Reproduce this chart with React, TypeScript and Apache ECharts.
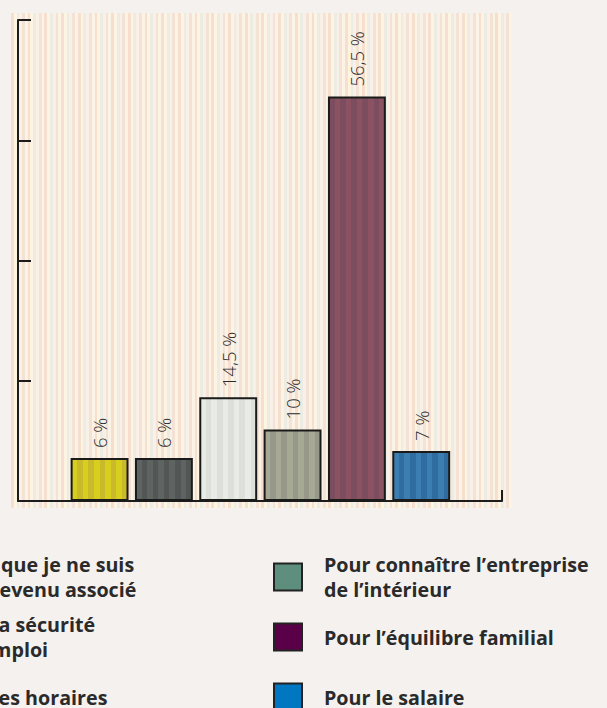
import React, { useEffect, useRef } from "react";
import * as echarts from "echarts";

// ---- data ----
const categories = [
  "Parce que je ne suis\nmon revenu associé",
  "Pour la sécurité\nde l’emploi",
  "Pour les horaires",
  "Pour connaître l’entreprise\nde l’intérieur",
  "Pour l’équilibre familial",
  "Pour le salaire",
];
const values = [6, 6, 14.5, 10, 56.5, 7];
const valueLabels = ["6 %", "6 %", "14,5 %", "10 %", "56,5 %", "7 %"];
const yMax = 67.2;
const yInterval = 16.8;

// ---- styles ----
const barShades = [
  ["#d8ce1e", "#c9ba2c"],
  ["#5e6461", "#525756"],
  ["#e9ece6", "#dde0d8"],
  ["#a6a994", "#979889"],
  ["#7c4d5e", "#8b5262"],
  ["#3c7db2", "#2f6da0"],
];
const legendColors = ["#d6cc1e", "#5a605e", "#eeeee8", "#5e8f7e", "#5a0048", "#0077c0"];
const bgStripes = ["#f6dfcf", "#fdf5e2", "#ecebe4", "#f9f0e8", "#f4e2d4", "#fbf3e6"];

function stripeGradient(colors: string[], count: number) {
  const stops: { offset: number; color: string }[] = [];
  for (let k = 0; k < count; k++) {
    const c = colors[k % colors.length];
    stops.push({ offset: k / count, color: c });
    stops.push({ offset: (k + 1) / count, color: c });
  }
  return new echarts.graphic.LinearGradient(0, 0, 1, 0, stops);
}

export default function App() {
  const ref = useRef<HTMLDivElement>(null);
  useEffect(() => {
    if (!ref.current) return;
    const chart = echarts.init(ref.current, null, { renderer: "svg" });

    const rowCenters = [577, 637, 697];
    const lineH = 25;
    const legends = categories.map((name, i) => {
      const col = i < 3 ? 0 : 1;
      const row = i % 3;
      const lines = name.split("\n").length;
      const h = Math.max(lines * lineH, 29);
      return {
        data: [{ name, itemStyle: { color: legendColors[i], borderColor: "#222", borderWidth: 2 } }],
        orient: "vertical",
        left: col === 0 ? -110 : 273,
        top: rowCenters[row] - h / 2,
        padding: 0,
        icon: "rect",
        itemWidth: 28,
        itemHeight: 27,
        selectedMode: false,
        itemStyle: { borderColor: "#222", borderWidth: 2 },
        textStyle: {
          fontFamily: "Open Sans",
          fontWeight: "bold",
          fontSize: 19.7,
          lineHeight: lineH,
          color: "#2a2a2a",
          padding: [0, 0, 0, 17],
        },
      };
    });

    const series = categories.map((name, i) => ({
      type: "bar",
      name,
      xAxisIndex: 1,
      yAxisIndex: 1,
      stack: "all",
      barWidth: "90%",
      data: values.map((v, j) => (j === i ? v : "-")),
      itemStyle: {
        color: stripeGradient(barShades[i], 10),
        borderColor: "#1a1a1a",
        borderWidth: 2,
      },
      label: {
        show: true,
        position: "top",
        rotate: 90,
        align: "left",
        verticalAlign: "middle",
        distance: 10,
        formatter: () => valueLabels[i],
        fontFamily: "Open Sans",
        fontWeight: 300,
        fontSize: 18.5,
        color: "#2a2a2a",
      },
      emphasis: { disabled: true },
    }));

    chart.setOption({
      animation: false,
      backgroundColor: "#f5f1ee",
      graphic: [
        {
          type: "rect",
          z: -10,
          silent: true,
          shape: { x: 11, y: 13, width: 501, height: 495 },
          style: { fill: stripeGradient(bgStripes, 180) },
        },
      ],
      legend: legends,
      grid: [
        { left: 18, top: 20, width: 484, height: 481 },
        { left: 67.4, top: 20, width: 386, height: 481 },
      ],
      xAxis: [
        {
          type: "value",
          gridIndex: 0,
          min: 0,
          max: 1,
          interval: 1,
          axisLine: { show: true, lineStyle: { color: "#1c1c1c", width: 2 } },
          axisTick: { show: true, inside: true, length: 11, lineStyle: { color: "#1c1c1c", width: 2 } },
          axisLabel: { show: false },
          splitLine: { show: false },
        },
        {
          type: "category",
          gridIndex: 1,
          data: categories,
          show: false,
        },
      ],
      yAxis: [
        {
          type: "value",
          gridIndex: 0,
          min: 0,
          max: yMax,
          interval: yInterval,
          axisLine: { show: true, lineStyle: { color: "#1c1c1c", width: 2 } },
          axisTick: { show: true, inside: true, length: 13, lineStyle: { color: "#1c1c1c", width: 2 } },
          axisLabel: { show: false },
          splitLine: { show: false },
        },
        {
          type: "value",
          gridIndex: 1,
          min: 0,
          max: yMax,
          show: false,
          splitLine: { show: false },
        },
      ],
      series,
    });
    return () => chart.dispose();
  }, []);
  return (
    <div
      ref={ref}
      style={{ position: "fixed", left: 0, top: 0, width: 607, height: 708 }}
    />
  );
}
